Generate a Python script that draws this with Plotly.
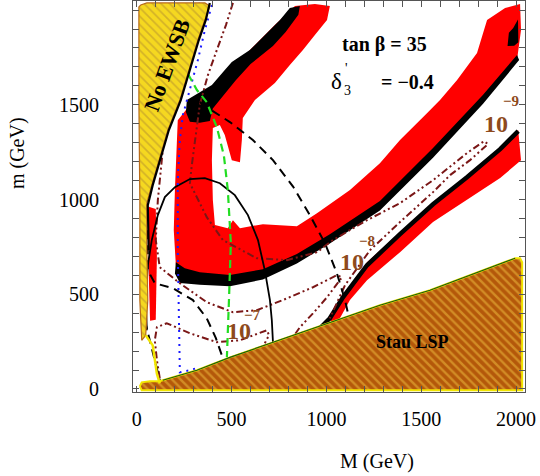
import plotly.graph_objects as go

# ---------------- data (M, m in GeV) ----------------
x_range = [-20, 2047]
y_range = [-16, 2048]
tick_vals = [0, 500, 1000, 1500, 2000]
tick_text = ["0", "500", "1000", "1500", "2000"]

# No EWSB region
ewsb_M = [11, 21, 53, 359, 385, 359, 322, 280, 227, 164, 121, 79, 53, 53, 58, 47, 26, 16, 16, 11]
ewsb_m = [2017, 2027, 2038, 2038, 2022, 1948, 1842, 1699, 1525, 1367, 1224, 1076, 981, 733, 469, 284, 257, 469, 997, 1525]
ewsb_edge_M = [385, 364, 327, 285, 232, 169, 127, 84, 58, 63]
ewsb_edge_m = [2038, 1948, 1842, 1699, 1525, 1367, 1224, 1076, 970, 733]
ewsb_tail_M = [47, 84, 106, 121]
ewsb_tail_m = [284, 230, 80, 30]

# Stau LSP region
stau_M = [16, 26, 69, 121, 137, 317, 491, 718, 950, 1282, 1546, 1757, 1995, 2021, 2032, 2032, 26]
stau_m = [14, 35, 41, 41, 46, 99, 167, 247, 326, 442, 521, 601, 690, 690, 669, -7, -7]

# red (WMAP) regions
red1_M = [834, 939, 1018, 1003, 939, 876, 807, 728, 623, 559, 554, 544, 501, 464, 438, 401, 396, 401, 412, 480,
          507, 544, 665, 844, 950, 1124, 1282, 1388, 1530, 1599, 1689, 1794, 1847, 1942, 2021, 2026, 2005, 1826,
          1562, 1282, 1018, 844, 665, 491, 332, 227, 206, 195, 201, 211, 216, 259, 332, 412, 570, 728]
red1_m = [2022, 2032, 2022, 1948, 1868, 1789, 1710, 1615, 1525, 1430, 1314, 1197, 1208, 1340, 1393, 1377, 1208,
          997, 865, 849, 891, 849, 870, 859, 928, 1050, 1192, 1314, 1456, 1525, 1631, 1774, 1948, 2011, 2032, 1895,
          1736, 1525, 1245, 960, 786, 680, 600, 569, 574, 585, 653, 838, 1050, 1261, 1419, 1472, 1525, 1604, 1763, 1921]
red2_M = [1018, 1087, 1214, 1388, 1562, 1741, 1916, 2011, 2026, 1916, 1741, 1562, 1388, 1214, 1124, 1071, 1034]
red2_m = [373, 495, 669, 828, 986, 1123, 1271, 1367, 1208, 1113, 997, 881, 722, 574, 469, 373, 336]
red3_M = [63, 100, 106, 100, 70, 63]
red3_m = [962, 950, 700, 365, 360, 600]

# black (newer WMAP) regions
blk1_M = [206, 253, 332, 491, 665, 844, 1018, 1282, 1562, 1826, 2005, 2016, 1826, 1562, 1282, 1018, 844, 665,
          491, 332, 227, 201]
blk1_m = [669, 637, 616, 601, 632, 712, 817, 992, 1272, 1553, 1763, 1736, 1505, 1220, 942, 768, 662, 578, 542,
          550, 560, 610]
blk2_M = [264, 332, 396, 464, 501, 596, 665, 712, 755, 807, 860, 852, 822, 785, 718, 670, 600, 522, 460, 401,
          385, 332, 280, 259]
blk2_m = [1525, 1567, 1604, 1684, 1726, 1789, 1858, 1906, 1948, 2011, 2022, 1975, 1935, 1885, 1810, 1772, 1715,
          1630, 1550, 1480, 1415, 1405, 1410, 1462]
blk3_M = [1955, 1962, 1985, 2010, 2012, 1990]
blk3_m = [1810, 1880, 1905, 1950, 1830, 1812]
blk4_M = [955, 1018, 1087, 1214, 1388, 1562, 1741, 1916, 2011]
blk4_m = [310, 373, 484, 653, 817, 975, 1118, 1266, 1361]

# contours (dash-dot-dot)
c9_M = [507, 470, 422, 375, 332, 306, 290, 280, 369, 454, 633, 792, 950, 1034, 1214, 1388, 1562, 1741, 1831,
        1852, 1757, 1652, 1562, 1388, 1230, 1098, 1018]
c9_m = [2038, 1921, 1789, 1657, 1499, 1314, 1181, 1086, 907, 786, 690, 680, 722, 786, 891, 981, 1102, 1245, 1308,
        1293, 1208, 1129, 1039, 881, 733, 548, 373]
c8_M = [332, 280, 227, 174, 137, 111, 100, 121, 227, 369, 507, 633, 770, 929, 1055, 1082, 1003, 929, 860, 823]
c8_m = [2038, 1895, 1736, 1525, 1261, 997, 786, 643, 558, 458, 405, 416, 469, 537, 601, 590, 484, 399, 326, 273]
c7_M = [121, 106, 95, 106, 158, 280, 422, 544, 686, 697, 675]
c7_m = [57, 152, 257, 326, 347, 294, 247, 257, 310, 284, 241]

# black dashed (two branches) and black solid arc
d1_M = [332, 375, 491, 612, 718, 823, 913, 992, 1055, 1098, 1124]
d1_m = [1514, 1483, 1409, 1314, 1208, 1070, 917, 770, 611, 469, 352]
d2_M = [58, 58, 95, 190, 296, 369, 417, 454]
d2_m = [838, 627, 558, 532, 469, 373, 268, 162]
d3_M = [42, 69, 95, 121]
d3_m = [363, 257, 152, 46]
arc_M = [53, 47, 58, 79, 111, 148, 201, 280, 359, 438, 517, 586, 639, 675, 702, 712, 718]
arc_m = [310, 469, 653, 786, 918, 1013, 1065, 1108, 1113, 1086, 1023, 918, 786, 627, 469, 363, 247]

# blue dotted and green dashed
blue_M = [396, 359, 322, 280, 243, 227, 216, 216, 222, 227, 280, 332]
blue_m = [2027, 1895, 1736, 1578, 1446, 1314, 1102, 733, 363, 88, 99, 115]
green_M = [216, 253, 317, 369, 422, 459, 480, 496, 486, 475]
green_m = [1789, 1694, 1578, 1514, 1382, 1234, 1050, 770, 469, 167]
stau_edge_M = [137, 317, 491, 718, 950, 1282, 1546, 1757, 1995]
stau_edge_m = [46, 99, 167, 247, 326, 442, 521, 601, 690]

# contour labels: base "10" and exponent
lab_base = ["10", "10", "10"]
lab_exp = ["−9", "−8", "−7"]
lab_M = [1894, 1135, 538]
lab_m = [1398, 669, 305]
exp_M = [1972, 1212, 610]
exp_m = [1522, 782, 392]

# ---------------- figure ----------------
SERIF = "Liberation Serif, Times New Roman, serif"
MAROON = "#7a1616"
LABEL_BROWN = "#8e4a1c"
fig = go.Figure()


def poly(M, m, color, line_color=None, lw=0, pattern=None):
    fig.add_trace(go.Scatter(
        x=M + [M[0]], y=m + [m[0]], mode="lines", fill="toself",
        fillcolor=color, fillpattern=pattern,
        line=dict(color=line_color or color, width=lw), hoverinfo="skip", showlegend=False))


def line(M, m, color, width, dash="solid"):
    fig.add_trace(go.Scatter(x=M, y=m, mode="lines", line=dict(color=color, width=width, dash=dash),
                             hoverinfo="skip", showlegend=False))


poly(red1_M, red1_m, "#ff0000")
poly(red2_M, red2_m, "#ff0000")
poly(red3_M, red3_m, "#ff0000")
poly(blk1_M, blk1_m, "#000000")
poly(blk2_M, blk2_m, "#000000")
poly(blk3_M, blk3_m, "#000000")
line(blk4_M, blk4_m, "#000000", 4.5)

DDOT = "7px,3px,2px,3px,2px,3px"
line(c9_M, c9_m, MAROON, 2, DDOT)
line(c8_M, c8_m, MAROON, 2, DDOT)
line(c7_M, c7_m, MAROON, 2, DDOT)
line(d1_M, d1_m, "#000000", 2, "9px,6px")
line(d2_M, d2_m, "#000000", 2, "9px,6px")
line(d3_M, d3_m, "#000000", 2, "9px,6px")
line(arc_M, arc_m, "#000000", 1.8)
line(blue_M, blue_m, "#1a1aff", 2, "2px,5px")
line(green_M, green_m, "#22dd22", 2.2, "8px,5px")

poly(stau_M, stau_m, "#b4580a", line_color="#f2e600", lw=2,
     pattern=dict(shape="\\", fgcolor="#f0c040", bgcolor="#b4580a", size=6, solidity=0.4))
line(stau_edge_M, stau_edge_m, "#1a5a10", 1.2)
poly(ewsb_M, ewsb_m, "#f5d820", line_color="#b86a1a", lw=1.2,
     pattern=dict(shape="\\", fgcolor="#b08a30", bgcolor="#f5d820", size=6, solidity=0.28))
line(ewsb_edge_M, ewsb_edge_m, "#000000", 2.2)
line(ewsb_tail_M, ewsb_tail_m, "#f2e600", 2.5)

annotations = []
for b, xm, ym in zip(lab_base, lab_M, lab_m):
    annotations.append(dict(x=xm, y=ym, xref="x", yref="y", text="<b>" + b + "</b>", showarrow=False,
                            font=dict(family=SERIF, size=24, color=LABEL_BROWN), xanchor="center", yanchor="middle"))
for e, xm, ym in zip(lab_exp, exp_M, exp_m):
    annotations.append(dict(x=xm, y=ym, xref="x", yref="y", text="<b>" + e + "</b>", showarrow=False,
                            font=dict(family=SERIF, size=15, color=LABEL_BROWN), xanchor="center", yanchor="middle"))
annotations += [
    dict(x=158, y=1709, xref="x", yref="y", text="<b>No EWSB</b>", showarrow=False, textangle=-70,
         font=dict(family=SERIF, size=22, color="#000000")),
    dict(x=1305, y=1816, xref="x", yref="y", text="<b>tan β = 35</b>", showarrow=False,
         font=dict(family=SERIF, size=20, color="#000000")),
    dict(x=1055, y=1625, xref="x", yref="y", text="δ", showarrow=False,
         font=dict(family=SERIF, size=23, color="#000000")),
    dict(x=1110, y=1575, xref="x", yref="y", text="3", showarrow=False,
         font=dict(family=SERIF, size=14, color="#000000")),
    dict(x=1108, y=1690, xref="x", yref="y", text="'", showarrow=False,
         font=dict(family=SERIF, size=14, color="#000000")),
    dict(x=1425, y=1620, xref="x", yref="y", text="<b>= −0.4</b>", showarrow=False,
         font=dict(family=SERIF, size=20, color="#000000")),
    dict(x=1453, y=246, xref="x", yref="y", text="<b>Stau LSP</b>", showarrow=False,
         font=dict(family=SERIF, size=18, color="#000000")),
    dict(x=0.622, y=-0.179, xref="paper", yref="paper", text="M (GeV)", showarrow=False,
         font=dict(family=SERIF, size=20, color="#000000"), xanchor="center", yanchor="middle"),
    dict(x=-0.296, y=0.611, xref="paper", yref="paper", text="m (GeV)", showarrow=False, textangle=-90,
         font=dict(family=SERIF, size=20, color="#000000"), xanchor="center", yanchor="middle"),
]

axis_common = dict(
    showgrid=False, zeroline=False, showline=True, linecolor="#555555", linewidth=1, mirror="allticks",
    ticks="inside", ticklen=6, tickcolor="#555555", tickvals=tick_vals, ticktext=tick_text,
    tickfont=dict(family=SERIF, size=20, color="#000000"),
    minor=dict(dtick=100, tick0=0, ticks="inside", ticklen=6, tickcolor="#555555"),
)

fig.update_layout(
    width=540, height=476, margin=dict(l=133, r=15, t=1, b=84),
    paper_bgcolor="white", plot_bgcolor="white", showlegend=False,
    xaxis=dict(range=x_range, ticklabelstandoff=9, **axis_common),
    yaxis=dict(range=y_range, ticklabelstandoff=29, **axis_common),
    annotations=annotations,
)

fig.write_html("out.html", config={"displayModeBar": False},
               post_script="document.body.style.margin='0px';document.body.style.overflow='hidden';")
